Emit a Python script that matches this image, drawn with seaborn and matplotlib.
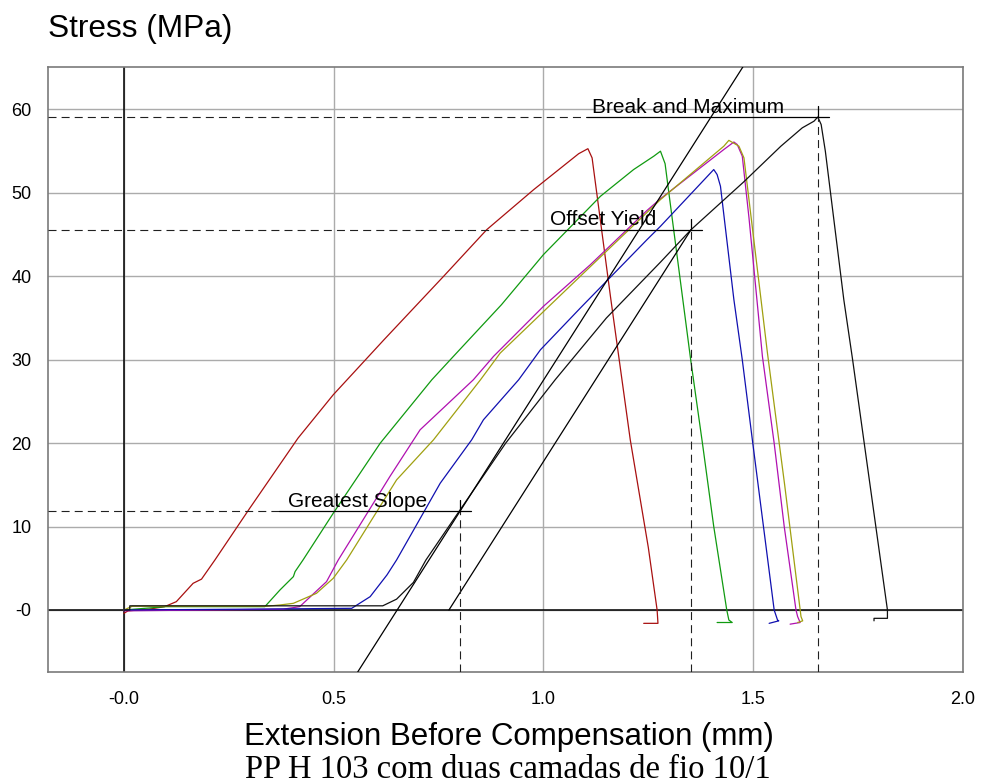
import numpy as np
import pandas as pd
import matplotlib
matplotlib.use("Agg")
import matplotlib.pyplot as plt
import seaborn as sns

# Specimen curves: extension (mm) vs stress (MPa)
red_x = [0.0, 0.01, 0.06, 0.097, 0.125, 0.165, 0.185, 0.217, 0.30, 0.415, 0.499, 0.62, 0.762,
         0.865, 0.977, 1.084, 1.106, 1.116, 1.16, 1.207, 1.25, 1.271, 1.273, 1.239]
red_y = [-0.4, -0.1, 0.1, 0.4, 1.0, 3.2, 3.7, 6.0, 12.2, 20.6, 25.8, 32.4, 40.0,
         45.6, 50.4, 54.7, 55.3, 54.2, 37.5, 20.4, 7.5, 0.0, -1.6, -1.6]

green_x = [0.0, 0.10, 0.336, 0.372, 0.404, 0.408, 0.427, 0.499, 0.611, 0.734, 0.778, 0.90, 1.0,
           1.136, 1.215, 1.263, 1.279, 1.290, 1.299, 1.351, 1.379, 1.406, 1.437, 1.442, 1.450, 1.414]
green_y = [0.0, 0.4, 0.4, 2.4, 4.0, 4.6, 6.0, 11.6, 20.0, 27.6, 30.0, 36.6, 42.6,
           49.6, 52.8, 54.4, 55.0, 53.5, 50.0, 30.0, 20.0, 10.0, 0.0, -1.2, -1.5, -1.5]

magenta_x = [0.0, 0.2, 0.38, 0.419, 0.483, 0.511, 0.634, 0.706, 0.833, 0.881, 1.0, 1.112, 1.247,
             1.279, 1.43, 1.454, 1.462, 1.474, 1.49, 1.522, 1.55, 1.574, 1.602, 1.606, 1.612, 1.588]
magenta_y = [-0.1, 0.0, 0.1, 0.4, 3.4, 6.0, 16.0, 21.6, 27.6, 30.4, 36.4, 41.4, 47.9,
             49.3, 55.2, 56.1, 55.8, 54.4, 47.0, 30.4, 20.0, 10.0, 0.0, -0.8, -1.5, -1.7]

yellow_x = [0.0, 0.02, 0.34, 0.372, 0.404, 0.459, 0.499, 0.531, 0.65, 0.738, 0.85, 0.897, 1.096,
            1.279, 1.43, 1.442, 1.466, 1.478, 1.534, 1.575, 1.614, 1.618, 1.606]
yellow_y = [0.0, 0.45, 0.45, 0.6, 0.8, 2.0, 3.8, 6.0, 15.6, 20.4, 27.6, 30.8, 40.4,
            49.2, 55.6, 56.3, 55.6, 54.2, 30.8, 15.0, -0.8, -1.3, -1.5]

blue_x = [0.0, 0.3, 0.543, 0.587, 0.627, 0.65, 0.754, 0.829, 0.857, 0.941, 0.993, 1.088, 1.247,
          1.279, 1.406, 1.414, 1.422, 1.454, 1.474, 1.498, 1.55, 1.558, 1.561, 1.538]
blue_y = [0.0, 0.1, 0.2, 1.6, 4.2, 6.0, 15.2, 20.4, 22.8, 27.6, 31.2, 36.2, 44.4,
          46.0, 52.8, 52.2, 50.8, 37.2, 30.0, 20.4, 0.0, -1.2, -1.3, -1.6]

black_x = [0.0, 0.014, 0.014, 0.617, 0.65, 0.69, 0.72, 0.80, 0.91, 1.028, 1.15, 1.279, 1.352,
           1.477, 1.566, 1.617, 1.645, 1.654, 1.662, 1.672, 1.716, 1.737, 1.82, 1.82, 1.788, 1.788]
black_y = [0.0, 0.0, 0.5, 0.5, 1.3, 3.3, 6.0, 11.9, 20.0, 27.6, 35.0, 41.7, 45.6,
           51.3, 55.6, 57.8, 58.6, 59.1, 58.2, 55.0, 37.2, 30.0, 0.0, -1.0, -1.0, -1.3]

# results of the black specimen
modulus = 79.0                  # MPa/mm, greatest slope
slope_pt = (0.802, 11.9)
yield_pt = (1.352, 45.6)
break_pt = (1.654, 59.1)

x_ticks = [0.0, 0.5, 1.0, 1.5, 2.0]
x_tick_labels = ["-0.0", "0.5", "1.0", "1.5", "2.0"]
y_ticks = [0, 10, 20, 30, 40, 50, 60]
y_tick_labels = ["-0", "10", "20", "30", "40", "50", "60"]

colors = {"red": "#a81010", "green": "#109a10", "magenta": "#b010b0",
          "yellow": "#a0a010", "blue": "#1010b0", "black": "#101010"}

series = {"red": (red_x, red_y), "green": (green_x, green_y), "magenta": (magenta_x, magenta_y),
          "yellow": (yellow_x, yellow_y), "blue": (blue_x, blue_y), "black": (black_x, black_y)}
df = pd.concat([pd.DataFrame({"ext": x, "stress": y, "specimen": k}) for k, (x, y) in series.items()],
               ignore_index=True)

sns.set_style("white")
plt.rcParams["font.family"] = ["Liberation Sans", "DejaVu Sans"]
plt.rcParams["text.color"] = "black"
plt.rcParams["xtick.color"] = "black"
plt.rcParams["ytick.color"] = "black"

fig = plt.figure(figsize=(9.81, 7.83), dpi=100)
ax = fig.add_axes([0.0489, 0.1418, 0.9327, 0.7727])

xlim = (-0.181, 2.0)
ylim = (-7.43, 65.1)
ax.set_xlim(xlim)
ax.set_ylim(ylim)

ax.grid(True, color="#ababab", lw=1.0)
ax.axhline(0, color="black", lw=1.1, zorder=1.5)
ax.axvline(0, color="black", lw=1.1, zorder=1.5)

sns.lineplot(data=df, x="ext", y="stress", hue="specimen", palette=colors, estimator=None,
             sort=False, legend=False, lw=0.9, ax=ax, zorder=3)

# greatest slope tangent and offset line
ty = np.array(ylim)
ax.plot(slope_pt[0] + (ty - slope_pt[1]) / modulus, ty, color="black", lw=0.9, zorder=3)
off_x0 = yield_pt[0] - yield_pt[1] / modulus
ax.plot([off_x0, yield_pt[0]], [0, yield_pt[1]], color="black", lw=0.9, zorder=3)

dash = (0, (7.2, 4.6))
annots = [("Greatest Slope", slope_pt, 0.369, 0.391),
          ("Offset Yield", yield_pt, 1.016, 1.016),
          ("Break and Maximum", break_pt, 1.105, 1.116)]
for label, (px, py), line_x, text_x in annots:
    ax.plot([xlim[0], line_x], [py, py], color="#202020", lw=0.8, ls=dash, zorder=4)
    ax.plot([px, px], [ylim[0], py], color="#202020", lw=0.8, ls=dash, zorder=4)
    ax.plot([line_x, px + 0.026], [py, py], color="black", lw=0.9, zorder=4)
    ax.plot([px, px], [py, py + 1.3], color="black", lw=0.9, zorder=4)
    ax.text(text_x, py + 0.5, label, fontsize=15, color="black", va="baseline", ha="left", zorder=5)

ax.set_xticks(x_ticks)
ax.set_xticklabels(x_tick_labels)
ax.set_yticks(y_ticks)
ax.set_yticklabels(y_tick_labels)
ax.set_xlabel("")
ax.set_ylabel("")
ax.tick_params(axis="both", direction="out", labelsize=13, labelcolor="black")
ax.tick_params(axis="x", length=9.5, width=1.0, pad=4, color="#888888")
ax.tick_params(axis="y", length=10, width=1.0, pad=2, color="#888888")
ax.xaxis.get_major_ticks()[0].tick1line.set_color("black")
ax.yaxis.get_major_ticks()[0].tick1line.set_color("black")

for s in ax.spines.values():
    s.set_color("#7a7a7a")
    s.set_linewidth(1.2)

fig.text(0.0489, 0.9527, "Stress (MPa)", fontsize=22.8, color="black", va="baseline", ha="left")
fig.text(0.519, 0.0485, "Extension Before Compensation (mm)", fontsize=22.5, color="black",
         va="baseline", ha="center")
fig.text(0.518, 0.0070, "PP H 103 com duas camadas de fio 10/1", fontsize=23.5, color="black",
         family=["Liberation Serif", "DejaVu Serif"], va="baseline", ha="center")

fig.savefig("out.png", dpi=100)
